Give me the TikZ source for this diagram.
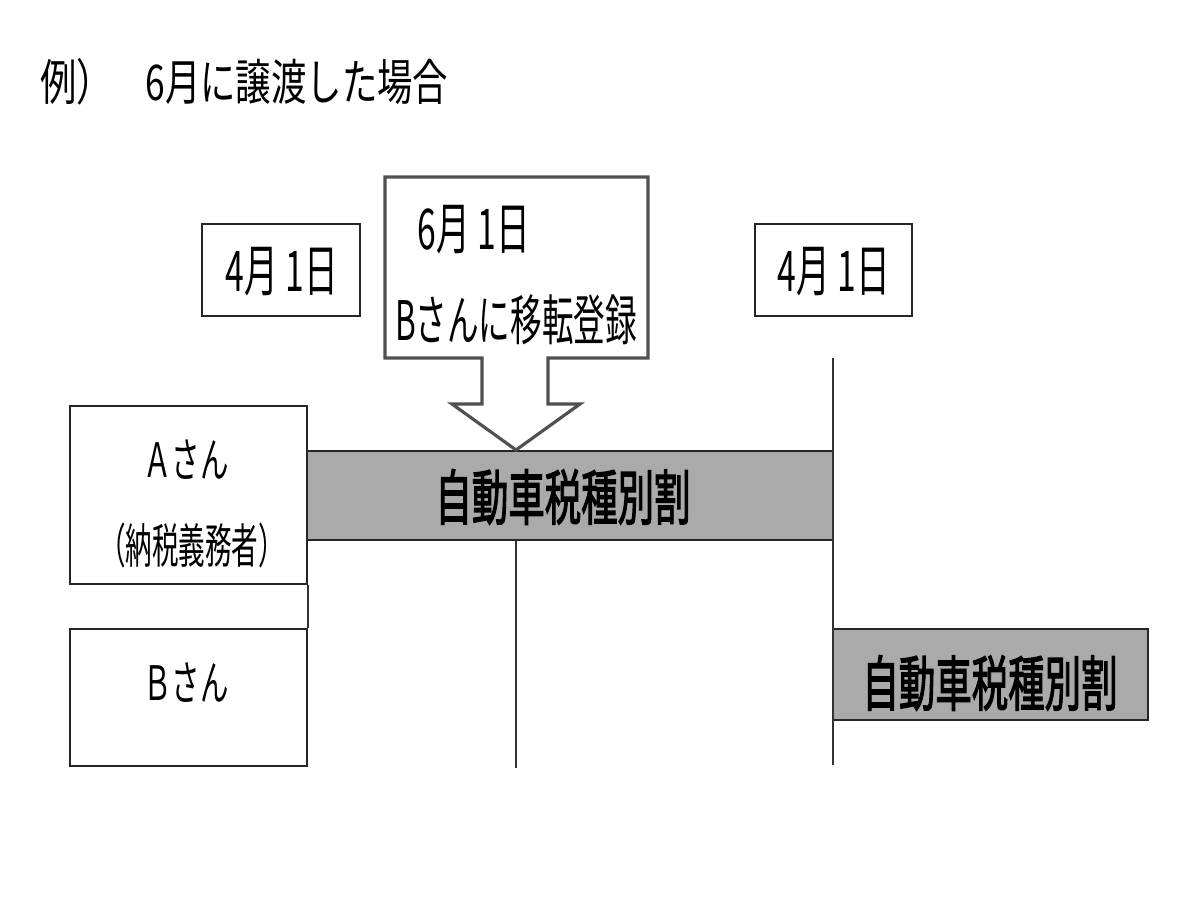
\documentclass[tikz,border=0pt]{standalone}
\usepackage{fontspec}
\usepackage{graphicx}
\newfontfamily\cjk{Noto Sans CJK JP}[AutoFakeBold=2.5]
\newcommand{\tx}[3]{{\fontsize{#1}{#1}\selectfont\scalebox{#2}[1]{#3}}}
\definecolor{barfill}{HTML}{AAAAAA}
\definecolor{calloutline}{HTML}{505050}
\begin{document}
\begin{tikzpicture}[x=0.02cm,y=-0.02cm,
  every node/.style={font=\cjk, inner sep=0pt},
  box/.style={draw=black!85, line width=1.2pt, fill=white},
  bar/.style={draw=black!85, line width=1.2pt, fill=barfill},
  vline/.style={draw=black!80, line width=0.9pt}]
\useasboundingbox (0,0) rectangle (1200,900);
\fill[white] (0,0) rectangle (1200,900);

% title
\node[anchor=west] (t1) at (40,82) {\tx{28pt}{0.74}{例）}};
\node[anchor=west] (t2) at (145,82) {\tx{28pt}{0.72}{6月に譲渡した場合}};

% date boxes
\node[box, minimum width=3.16cm, minimum height=1.84cm] (d1) at (281,270) {};
\node (d1t) at (282,272) {\tx{32pt}{0.6}{4月 1日}};
\node[box, minimum width=3.14cm, minimum height=1.84cm] (d2) at (833.5,270) {};
\node (d2t) at (834,272) {\tx{32pt}{0.6}{4月 1日}};

% persons
\node[box, minimum width=4.74cm, minimum height=3.56cm] (A) at (188.5,495) {};
\node (At) at (186,460) {\tx{27pt}{0.6}{Ａさん}};
\node (At2) at (192,545) {\tx{27pt}{0.56}{（納税義務者）}};
\node[box, minimum width=4.74cm, minimum height=2.74cm] (B) at (188.5,697.5) {};
\node (Bt) at (186,683) {\tx{27pt}{0.6}{Ｂさん}};

% bars
\node[bar, minimum width=10.52cm, minimum height=1.78cm] (bar1) at (570,495.5) {};
\node (bar1t) at (563,497) {\bfseries\tx{34pt}{0.61}{自動車税種別割}};
\node[bar, minimum width=6.3cm, minimum height=1.82cm] (bar2) at (990.5,674.5) {};
\node (bar2t) at (990,683) {\bfseries\tx{34pt}{0.61}{自動車税種別割}};

% vertical lines
\coordinate (v1top) at (833,358);
\coordinate (v1bot) at (833,765);
\draw[vline] (v1top) -- (v1bot);
\coordinate (v2bot) at (516,768);
\draw[vline] (bar1.south -| v2bot) -- (v2bot);
\draw[vline] (A.south east) -- (B.north east);

% callout
\coordinate (tipx) at (516,0);
\coordinate (tip) at (bar1.north -| tipx);
\draw[draw=calloutline, line width=1.8pt, fill=white, line join=miter]
  (385,177) -- (648,177) -- (648,358) -- (548,358) -- (548,404) -- (580,404)
  -- (tip) -- (452,404) -- (482,404) -- (482,358) -- (385,358) -- cycle;
\node (ct1) at (474,230) {\tx{32pt}{0.6}{6月 1日}};
\node (ct2) at (516,320) {\tx{31pt}{0.58}{Bさんに移転登録}};
\end{tikzpicture}
\end{document}
